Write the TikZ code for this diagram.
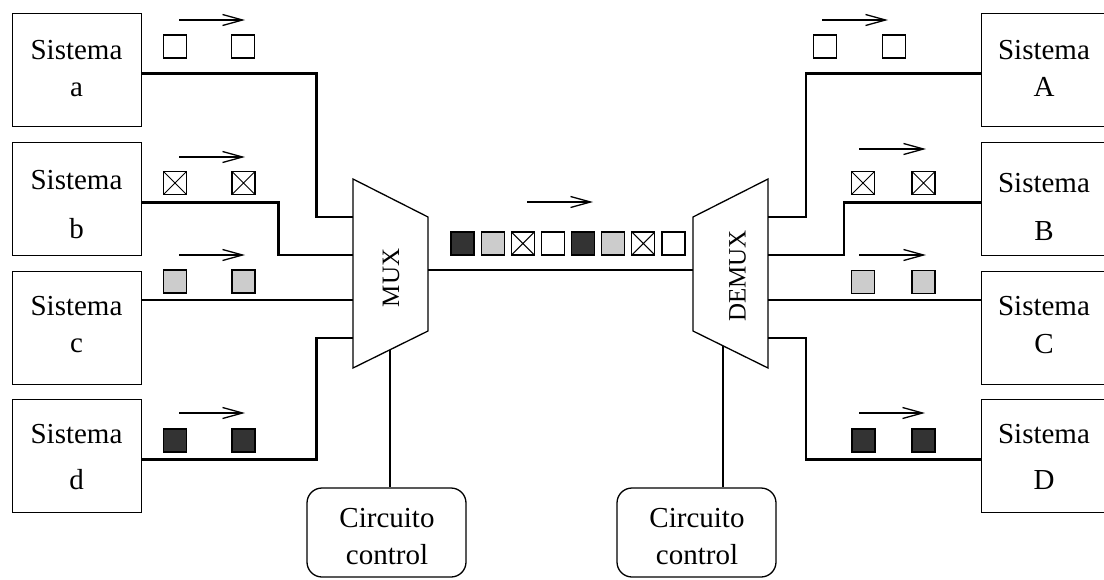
\documentclass[tikz,border=0pt]{standalone}
\usepackage{fontspec}
\setmainfont{Liberation Serif}
\usetikzlibrary{arrows.meta}
\definecolor{pdark}{HTML}{333333}
\definecolor{plight}{HTML}{CCCCCC}
\begin{document}
\begin{tikzpicture}[x=1pt,y=-1pt,
  sysbox/.style={draw, line width=1.3pt, minimum width=129pt, minimum height=113pt, inner sep=0pt, anchor=north west},
  ctlbox/.style={draw, line width=1.3pt, rounded corners=15pt, minimum width=159pt, minimum height=89pt, inner sep=0pt},
  lbl/.style={anchor=base, inner sep=0pt, font=\fontsize{29}{35}\selectfont},
  muxlbl/.style={rotate=90, inner sep=0pt, font=\fontsize{25}{30}\selectfont},
  wire/.style={line width=2.6pt, line join=miter},
  thinline/.style={line width=1.3pt},
  flow/.style={line width=1.3pt, -{Straight Barb[length=20pt,width=11pt,line width=1.3pt]}},
  pk/.style={draw, line width=1.2pt, minimum size=23pt, inner sep=0pt},
  pkw/.style={pk, fill=white},
  pkd/.style={pk, fill=pdark},
  pkg/.style={pk, fill=plight},
  pkx/.style={pk, fill=white, path picture={\draw[line width=1pt] (path picture bounding box.south west) -- (path picture bounding box.north east) (path picture bounding box.north west) -- (path picture bounding box.south east);}}
]
\clip (0,0) rectangle (1104,579);
\fill[white] (0,0) rectangle (1104,579);

% left systems
\node[sysbox] (sa) at (12,13) {};
\node[sysbox] (sb) at (12,142) {};
\node[sysbox] (sc) at (12,271) {};
\node[sysbox] (sd) at (12,399) {};
\node[lbl] (ta1) at (76.5,59) {Sistema};
\node[lbl] (ta2) at (76.5,96) {a};
\node[lbl] (tb1) at (76.5,189) {Sistema};
\node[lbl] (tb2) at (76.5,238) {b};
\node[lbl] (tc1) at (76.5,315) {Sistema};
\node[lbl] (tc2) at (76.5,352) {c};
\node[lbl] (td1) at (76.5,443) {Sistema};
\node[lbl] (td2) at (76.5,489) {d};

% right systems
\node[sysbox] (sA) at (981,13) {};
\node[sysbox] (sB) at (981,142) {};
\node[sysbox] (sC) at (981,271) {};
\node[sysbox] (sD) at (981,399) {};
\node[lbl] (tA1) at (1044,59) {Sistema};
\node[lbl] (tA2) at (1044,96) {A};
\node[lbl] (tB1) at (1044,192) {Sistema};
\node[lbl] (tB2) at (1044,240) {B};
\node[lbl] (tC1) at (1044,315) {Sistema};
\node[lbl] (tC2) at (1044,353) {C};
\node[lbl] (tD1) at (1044,443) {Sistema};
\node[lbl] (tD2) at (1044,489) {D};

% MUX and DEMUX
\draw[thinline] (353,179) -- (428,217) -- (428,331) -- (353,368) -- cycle;
\draw[thinline] (693,217) -- (768,179) -- (768,368) -- (693,331) -- cycle;
\node[muxlbl] (muxt) at (391,278) {MUX};
\node[muxlbl] (demuxt) at (737.5,276) {DEMUX};
\coordinate (ma) at (353,217);
\coordinate (mb) at (353,255);
\coordinate (mc) at (353,300);
\coordinate (md) at (353,338);
\coordinate (mo) at (428,270);
\coordinate (di) at (693,270);
\coordinate (dA) at (768,217);
\coordinate (dB) at (768,255);
\coordinate (dC) at (768,300);
\coordinate (dD) at (768,338);
\coordinate (mctl) at (390,349.7);
\coordinate (dctl) at (723,345.8);

% control circuits
\node[ctlbox] (cc1) at (386.5,532.5) {};
\node[ctlbox] (cc2) at (696.5,532.5) {};
\node[lbl] (c1a) at (387,527) {Circuito};
\node[lbl] (c1b) at (387,564) {control};
\node[lbl] (c2a) at (697,527) {Circuito};
\node[lbl] (c2b) at (697,564) {control};
\draw[thinline] (mctl) -- (mctl |- cc1.north);
\draw[thinline] (dctl) -- (dctl |- cc2.north);

% wires
\draw[wire] ([yshift=-3.5pt]sa.east) -- ++(174,0) |- (ma);
\draw[wire] ([yshift=-3.5pt]sb.east) -- ++(136,0) |- (mb);
\draw[wire] (sc.east |- mc) -- (mc);
\draw[wire] ([yshift=-3.5pt]sd.east) -- ++(174,0) |- (md);
\draw[wire] (mo) -- (di);
\draw[wire] (dA) -- ++(38,0) |- ([yshift=-3.5pt]sA.west);
\draw[wire] (dB) -- ++(76,0) |- ([yshift=-3.5pt]sB.west);
\draw[wire] (dC) -- (dC -| sC.west);
\draw[wire] (dD) -- ++(38,0) |- ([yshift=-3.5pt]sD.west);

% left packets
\draw[flow] (179,20) -- (245,20);
\node[pkw] (pa1) at (175,46.5) {};
\node[pkw] (pa2) at (243,46.5) {};
\draw[flow] (179,157) -- (245,157);
\node[pkx] (pb1) at (175,183) {};
\node[pkx] (pb2) at (243.5,183) {};
\draw[flow] (179,255) -- (245,255);
\node[pkg] (pc1) at (175,281.5) {};
\node[pkg] (pc2) at (243.5,281.5) {};
\draw[flow] (179,413) -- (245,413);
\node[pkd] (pd1) at (175,440.5) {};
\node[pkd] (pd2) at (243.5,440.5) {};

% right packets
\draw[flow] (822,20) -- (888,20);
\node[pkw] (pA1) at (825,46.5) {};
\node[pkw] (pA2) at (894,46.5) {};
\draw[flow] (859,149) -- (926,149);
\node[pkx] (pB1) at (863,183) {};
\node[pkx] (pB2) at (923.5,183) {};
\draw[flow] (859,255) -- (926,255);
\node[pkg] (pC1) at (863,282) {};
\node[pkg] (pC2) at (923.5,282) {};
\draw[flow] (859,413) -- (925,413);
\node[pkd] (pD1) at (863.5,440.5) {};
\node[pkd] (pD2) at (923.5,440.5) {};

% main line packets
\draw[flow] (527,202) -- (593,202);
\node[pkd] (m1) at (462.5,243.5) {};
\node[pkg] (m2) at (492.6,243.5) {};
\node[pkx] (m3) at (522.8,243.5) {};
\node[pkw] (m4) at (552.9,243.5) {};
\node[pkd] (m5) at (583.1,243.5) {};
\node[pkg] (m6) at (613.2,243.5) {};
\node[pkx] (m7) at (643.3,243.5) {};
\node[pkw] (m8) at (673.5,243.5) {};
\end{tikzpicture}
\end{document}
